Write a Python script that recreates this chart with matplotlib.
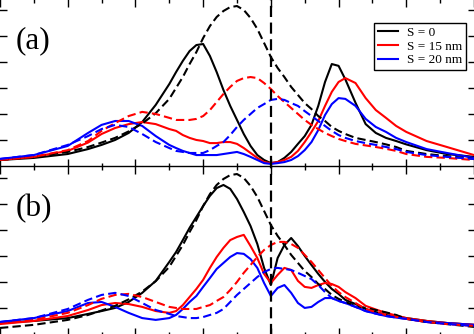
# two stacked spectra panels, (a) and (b), cropped tight to the frame
import matplotlib.pyplot as plt

# x positions (arbitrary units, major ticks at integers)
x = [0.0, 0.5, 1.0, 1.3, 1.5, 1.7, 1.9, 2.1, 2.3,
     2.5, 2.6, 2.7, 2.8, 2.9, 3.0, 3.1, 3.2, 3.3, 3.4, 3.5, 3.6, 3.7, 3.8, 3.9,
     4.0, 4.1, 4.2, 4.3, 4.4, 4.5, 4.6, 4.7, 4.8, 4.9, 5.0, 5.1,
     5.25, 5.4, 5.55, 5.7, 5.85, 6.0, 6.3, 6.6, 7.0]

# reference curve (dashed black), the same in both panels
ref_s0 = [0.25, 0.37, 0.56, 0.75, 0.92, 1.10, 1.35, 1.65, 2.05, 2.60,
          3.02, 3.44, 3.94, 4.40, 4.94, 5.40, 5.75, 5.98, 6.13, 6.17,
          6.02, 5.71, 5.29, 4.75, 4.21, 3.79, 3.44, 3.06, 2.75, 2.44,
          2.21, 1.94, 1.75, 1.52, 1.37, 1.25, 1.10, 1.02, 0.94, 0.85,
          0.75, 0.60, 0.48, 0.40, 0.29]

# panel (a)
a_s0 = [0.25, 0.33, 0.48, 0.67, 0.83, 1.02, 1.29, 1.71, 2.37, 3.17,
        3.63, 4.06, 4.44, 4.67, 4.71, 4.25, 3.63, 2.94, 2.33, 1.79,
        1.25, 0.79, 0.44, 0.25, 0.13, 0.17, 0.33, 0.56, 0.87, 1.17,
        1.60, 2.33, 3.25, 3.94, 3.87, 3.35, 2.45, 1.63, 1.29, 1.10,
        0.98, 0.85, 0.63, 0.48, 0.37]
a_s15 = [0.25, 0.37, 0.60, 0.92, 1.25, 1.48, 1.63, 1.71, 1.63, 1.44,
         1.37, 1.21, 1.10, 1.02, 0.98, 0.90, 0.90, 0.94, 0.94, 0.87,
         0.71, 0.52, 0.33, 0.17, 0.13, 0.17, 0.25, 0.37, 0.60, 0.94,
         1.33, 1.75, 2.33, 2.87, 3.25, 3.40, 3.21, 2.63, 2.17, 1.87,
         1.56, 1.33, 0.98, 0.75, 0.44]
a_s20 = [0.29, 0.44, 0.79, 1.29, 1.60, 1.75, 1.75, 1.56, 1.17, 0.83,
         0.71, 0.60, 0.52, 0.44, 0.44, 0.44, 0.44, 0.48, 0.52, 0.56,
         0.48, 0.37, 0.25, 0.13, 0.10, 0.13, 0.17, 0.25, 0.40, 0.63,
         0.94, 1.40, 1.98, 2.40, 2.63, 2.60, 2.33, 1.83, 1.52, 1.33,
         1.10, 0.94, 0.67, 0.52, 0.33]
a_s15_ref = [0.25, 0.37, 0.63, 0.98, 1.37, 1.67, 1.94, 2.10, 2.02, 1.87,
             1.79, 1.79, 1.79, 1.83, 1.94, 2.17, 2.48, 2.79, 3.06, 3.29,
             3.40, 3.44, 3.40, 3.21, 2.98, 2.71, 2.48, 2.25, 2.02, 1.79,
             1.60, 1.44, 1.29, 1.17, 1.06, 0.98, 0.87, 0.81, 0.75, 0.68,
             0.60, 0.48, 0.37, 0.33, 0.25]
a_s20_ref = [0.29, 0.44, 0.83, 1.17, 1.44, 1.60, 1.52, 1.25, 0.94, 0.71,
             0.60, 0.56, 0.52, 0.52, 0.52, 0.63, 0.79, 0.94, 1.21, 1.52,
             1.79, 2.02, 2.25, 2.40, 2.56, 2.60, 2.56, 2.44, 2.33, 2.13,
             1.94, 1.75, 1.56, 1.37, 1.21, 1.10, 0.98, 0.90, 0.83, 0.75,
             0.67, 0.56, 0.44, 0.37, 0.29]

# panel (b)
b_s0 = [0.44, 0.52, 0.63, 0.79, 0.90, 1.02, 1.25, 1.60, 2.06, 2.79,
        3.17, 3.63, 4.10, 4.52, 4.94, 5.33, 5.63, 5.75, 5.60, 5.21,
        4.71, 4.17, 3.48, 2.56, 1.90, 2.94, 3.44, 3.71, 3.40, 3.02,
        2.67, 2.33, 2.02, 1.75, 1.56, 1.33, 1.17, 0.98, 0.86, 0.75,
        0.69, 0.63, 0.52, 0.44, 0.37]
b_s15 = [0.40, 0.52, 0.71, 0.94, 1.13, 1.21, 1.17, 1.06, 0.90, 0.83,
         0.90, 1.13, 1.44, 1.75, 2.10, 2.56, 2.98, 3.33, 3.63, 3.75,
         3.83, 3.40, 2.94, 2.33, 1.98, 2.29, 2.56, 2.48, 2.06, 1.83,
         1.79, 1.90, 1.98, 1.94, 1.83, 1.63, 1.40, 1.10, 0.96, 0.83,
         0.73, 0.63, 0.52, 0.44, 0.37]
b_s20 = [0.48, 0.63, 0.90, 1.21, 1.25, 1.06, 0.83, 0.63, 0.56, 0.63,
         0.75, 0.98, 1.25, 1.48, 1.83, 2.17, 2.52, 2.75, 2.98, 3.13,
         3.10, 2.90, 2.56, 1.98, 1.48, 1.79, 1.90, 1.60, 1.21, 1.02,
         1.06, 1.25, 1.40, 1.40, 1.29, 1.21, 1.06, 0.90, 0.80, 0.71,
         0.65, 0.60, 0.48, 0.44, 0.37]
b_s15_ref = [0.44, 0.56, 0.83, 1.13, 1.37, 1.52, 1.56, 1.44, 1.25, 1.06,
             1.02, 0.98, 0.98, 0.98, 1.06, 1.13, 1.29, 1.44, 1.71, 2.02,
             2.37, 2.67, 2.98, 3.25, 3.44, 3.56, 3.56, 3.48, 3.33, 3.06,
             2.79, 2.48, 2.17, 1.87, 1.63, 1.44, 1.21, 0.98, 0.86, 0.75,
             0.68, 0.60, 0.48, 0.40, 0.33]
b_s20_ref = [0.48, 0.63, 0.98, 1.33, 1.52, 1.60, 1.48, 1.21, 0.94, 0.79,
             0.71, 0.67, 0.63, 0.63, 0.67, 0.75, 0.83, 0.98, 1.25, 1.52,
             1.75, 1.98, 2.21, 2.40, 2.52, 2.56, 2.52, 2.48, 2.37, 2.25,
             2.13, 1.90, 1.63, 1.40, 1.29, 1.21, 1.06, 0.90, 0.80, 0.71,
             0.65, 0.60, 0.48, 0.40, 0.33]

labels = ["S = 0", "S = 15 nm", "S = 20 nm"]
colors = ["black", "red", "blue"]
x_mark = 4.0  # vertical dashed marker

plt.rcParams['font.family'] = ['Liberation Serif', 'DejaVu Serif']

W, H = 474, 334
fig = plt.figure(figsize=(W / 100, H / 100), dpi=100)
# frames run slightly past the picture edges, as in the cropped original
ax_a = fig.add_axes([-1.5 / W, 167.5 / H, 477 / W, 168 / H])
ax_b = fig.add_axes([-1.5 / W, -1.5 / H, 477 / W, 169 / H])

dash = (0, (4, 2))
panels = [
    (ax_a, [a_s0, a_s15, a_s20], [ref_s0, a_s15_ref, a_s20_ref], "(a)", (0.0, 6.46)),
    (ax_b, [b_s0, b_s15, b_s20], [ref_s0, b_s15_ref, b_s20_ref], "(b)", (-0.04, 6.46)),
]

for ax, solids, dashed, tag, ylim in panels:
    for ys, c, lab in zip(solids, colors, labels):
        ax.plot(x, ys, color=c, lw=1.5, label=lab)
    for ys, c in zip(dashed, colors):
        ax.plot(x, ys, color=c, lw=1.5, linestyle=dash)
    ax.axvline(x_mark, color="black", lw=1.6, linestyle=(0, (5, 2.5)), zorder=5)

    ax.set_xlim(-1.5 / 67.7, 7 + 1.5 / 67.7)
    ax.set_ylim(*ylim)
    ax.set_xticks(range(8))
    ax.set_xticks([i + 0.5 for i in range(7)], minor=True)
    ax.set_yticks(range(1, 7))
    ax.tick_params(which="both", direction="in", top=True, right=True,
                   labelbottom=False, labelleft=False, width=1.0)
    ax.tick_params(which="major", length=6)
    ax.tick_params(which="minor", length=3)
    for sp in ax.spines.values():
        sp.set_linewidth(1.0)
    ax.text(0.035, 0.75, tag, transform=ax.transAxes, fontsize=22.5,
            ha="left", va="center")

leg = ax_a.legend(loc="upper right", bbox_to_anchor=(0.98, 0.855),
                  fontsize=9.5, frameon=True, fancybox=False, framealpha=1,
                  edgecolor="black", borderaxespad=0, borderpad=0.3,
                  labelspacing=0.1, handlelength=1.45, handletextpad=0.7)
leg.get_frame().set_linewidth(1.0)

fig.savefig("out.png", dpi=100)
